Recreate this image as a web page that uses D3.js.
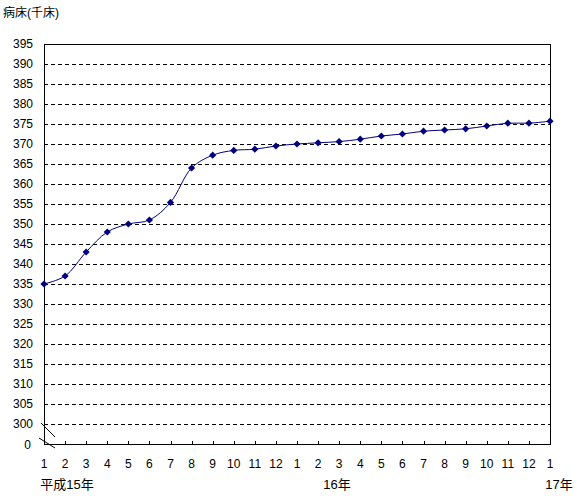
<!DOCTYPE html>
<html><head><meta charset="utf-8">
<script src="https://cdn.jsdelivr.net/npm/d3@7/dist/d3.min.js"></script>
<style>body{margin:0;background:#fff}svg{display:block;font-family:'Liberation Sans','Noto Sans CJK JP',sans-serif}</style>
</head><body><svg id="c" width="577" height="501"></svg>
<script>
const months = ["1","2","3","4","5","6","7","8","9","10","11","12","1","2","3","4","5","6","7","8","9","10","11","12","1"];
const beds = [335,337,343,348,350,351,355.4,364,367.2,368.4,368.7,369.5,370,370.3,370.6,371.2,372,372.5,373.2,373.5,373.8,374.5,375.2,375.2,375.7];
const yTicks = [300,305,310,315,320,325,330,335,340,345,350,355,360,365,370,375,380,385,390,395];
const yearLabels = [{i:0,t:"平成15年",dx:23},{i:12,t:"16年",dx:40},{i:24,t:"17年",dx:9}];
const yTitle = "病床(千床)";

const svg = d3.select("#c");
const L=44,R=550,T=44,B=444;
const x = d3.scaleLinear().domain([0,months.length-1]).range([L,R]);
const y = d3.scaleLinear().domain([0,300,395]).range([B,424,T]);

// gridlines
svg.append("g").selectAll("line").data(yTicks.filter(v=>v<395)).join("line")
  .attr("x1",L).attr("x2",R).attr("y1",d=>y(d)+0.5).attr("y2",d=>y(d)+0.5)
  .attr("stroke","#000").attr("stroke-dasharray","4,3").attr("stroke-width",1);

// frame
svg.append("rect").attr("x",L+0.5).attr("y",T+0.5).attr("width",R-L).attr("height",B-T)
  .attr("fill","none").attr("stroke","#000").attr("stroke-width",1);

// x ticks
svg.append("g").selectAll("line").data(months.map((m,i)=>i)).join("line")
  .attr("x1",d=>Math.round(x(d))+0.5).attr("x2",d=>Math.round(x(d))+0.5)
  .attr("y1",B).attr("y2",B-3).attr("stroke","#000");

// y labels
svg.append("g").selectAll("text").data(yTicks).join("text")
  .attr("x",33).attr("y",d=>y(d)+4).attr("text-anchor","end")
  .attr("font-size",12).text(d=>d);
svg.append("text").attr("x",31).attr("y",B+5).attr("text-anchor","end").attr("font-size",12).text("0");

// break marks
const brk = svg.append("g").attr("stroke","#000").attr("stroke-width",1);
brk.append("line").attr("x1",41).attr("y1",y(300)-1).attr("x2",55).attr("y2",y(300)+13);
brk.append("line").attr("x1",39).attr("y1",y(300)+14).attr("x2",55).attr("y2",B+4);

// month labels
svg.append("g").selectAll("text").data(months).join("text")
  .attr("x",(d,i)=>x(i)).attr("y",468).attr("text-anchor","middle")
  .attr("font-size",12).text(d=>d);
// year labels
svg.append("g").selectAll("text").data(yearLabels).join("text")
  .attr("x",d=>x(d.i)+d.dx).attr("y",489).attr("text-anchor","middle")
  .attr("font-size",13).text(d=>d.t);

// title
svg.append("text").attr("x",3).attr("y",17).attr("font-size",12).text(yTitle);

// line
const line = d3.line().x((d,i)=>x(i)).y(d=>y(d)).curve(d3.curveCatmullRom.alpha(0.5));
svg.append("path").datum(beds).attr("d",line).attr("fill","none").attr("stroke","#000080").attr("stroke-width",1);
svg.append("g").selectAll("path").data(beds).join("path")
  .attr("transform",(d,i)=>`translate(${x(i)},${y(d)}) rotate(45)`)
  .attr("d",d3.symbol(d3.symbolSquare,26)).attr("fill","#000080");
</script></body></html>
